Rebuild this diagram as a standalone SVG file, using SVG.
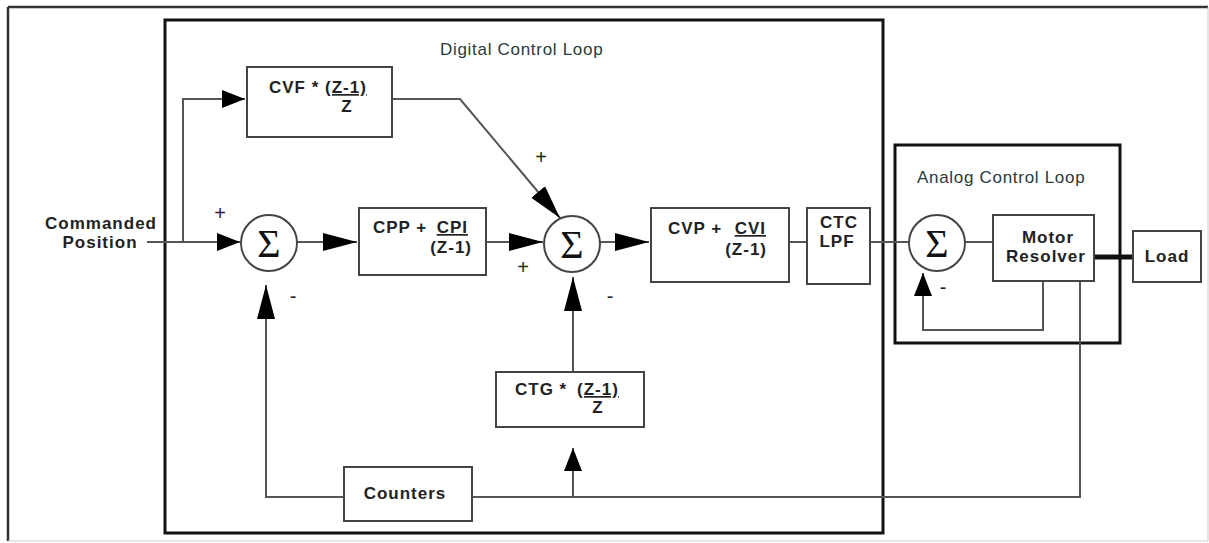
<svg xmlns="http://www.w3.org/2000/svg" width="1209" height="543" viewBox="0 0 1209 543">
<style>
.box{fill:#fff;stroke:#444;stroke-width:2}
.frame{fill:none;stroke:#111;stroke-width:3}
.ln{fill:none;stroke:#555;stroke-width:2}
.lbl{font-family:"Liberation Sans",Arial,sans-serif;font-size:17px;font-weight:bold;letter-spacing:1px;fill:#222}
.ttl{font-family:"Liberation Sans",Arial,sans-serif;font-size:17px;letter-spacing:0.7px;fill:#2a3a3a}
.sig{font-family:"Liberation Serif","Times New Roman",serif;font-size:40px;fill:#111;text-anchor:middle}
.sgn{font-family:"Liberation Sans",Arial,sans-serif;font-size:20px;fill:#222;text-anchor:middle}
.m{text-anchor:middle}
.e{text-anchor:end}
.u{text-decoration:underline}
.circ{fill:#fff;stroke:#444;stroke-width:2}
</style>
<defs>
<marker id="aL" markerUnits="userSpaceOnUse" markerWidth="34" markerHeight="20" viewBox="0 0 34 20" refX="34" refY="10" orient="auto"><path d="M0,1 L34,10 L0,19 z" fill="#000"/></marker>
<marker id="aS" markerUnits="userSpaceOnUse" markerWidth="23" markerHeight="20" viewBox="0 0 23 20" refX="23" refY="10" orient="auto"><path d="M0,1 L23,10 L0,19 z" fill="#000"/></marker>
</defs>
<rect width="1209" height="543" fill="#fff"/>
<g id="outer-frame">
<line x1="8" y1="7" x2="1208" y2="7" stroke="#333" stroke-width="2.5"/>
<line x1="8" y1="7" x2="8" y2="541" stroke="#333" stroke-width="2.5"/>
<line x1="1208" y1="7" x2="1208" y2="541" stroke="#ccc" stroke-width="1"/>
<line x1="8" y1="541" x2="1208" y2="541" stroke="#ccc" stroke-width="1"/>
</g>
<g id="digital-loop">
<rect class="frame" x="165" y="20" width="718" height="513"/>
<text class="ttl" x="440" y="55">Digital Control Loop</text>
</g>
<g id="analog-loop">
<rect class="frame" x="895" y="145" width="225" height="198"/>
<text class="ttl" x="917" y="183">Analog Control Loop</text>
</g>
<g id="commanded-position">
<text class="lbl m" x="101" y="229">Commanded</text>
<text class="lbl m" x="100" y="248">Position</text>
</g>
<g id="connectors">
<path class="ln" d="M183,242 V99 H245" marker-end="url(#aS)"/>
<path class="ln" d="M147,242 H240" marker-end="url(#aS)"/>
<path class="ln" d="M297,242 H357" marker-end="url(#aL)"/>
<path class="ln" d="M486,242 H543" marker-end="url(#aL)"/>
<path class="ln" d="M392,99 H460 L560,218" marker-end="url(#aL)"/>
<path class="ln" d="M600,242 H649" marker-end="url(#aL)"/>
<path class="ln" d="M789,242 H807"/>
<path class="ln" d="M870,242 H909"/>
<path class="ln" d="M965,242 H993"/>
<path d="M1094,257 H1133" fill="none" stroke="#111" stroke-width="5"/>
<path class="ln" d="M1043,281 V330 H923 V273" marker-end="url(#aS)"/>
<path class="ln" d="M1080,281 V497 H472"/>
<path class="ln" d="M344,497 H266 V285" marker-end="url(#aL)"/>
<path class="ln" d="M573,497 V448" marker-end="url(#aS)"/>
<path class="ln" d="M573,372 V277" marker-end="url(#aL)"/>
</g>
<g id="cvf">
<rect class="box" x="247" y="67" width="145" height="70"/>
<text class="lbl" x="269" y="93">CVF *</text>
<text class="lbl u" x="325" y="93">(Z-1)</text>
<text class="lbl m" x="347" y="112">Z</text>
</g>
<g id="sum1">
<circle class="circ" cx="269" cy="243" r="28"/>
<text class="sig" x="269" y="257">Σ</text>
<text class="sgn" x="220" y="220">+</text>
<text class="sgn" x="293" y="303">-</text>
</g>
<g id="cpp">
<rect class="box" x="359" y="208" width="127" height="67"/>
<text class="lbl" x="373" y="233">CPP +</text>
<text class="lbl e u" x="468" y="233">CPI</text>
<text class="lbl e" x="472" y="253">(Z-1)</text>
</g>
<g id="sum2">
<circle class="circ" cx="572" cy="244" r="28"/>
<text class="sig" x="572" y="258">Σ</text>
<text class="sgn" x="541" y="164">+</text>
<text class="sgn" x="523" y="274">+</text>
<text class="sgn" x="610" y="303">-</text>
</g>
<g id="cvp">
<rect class="box" x="651" y="208" width="138" height="74"/>
<text class="lbl" x="668" y="234">CVP +</text>
<text class="lbl e u" x="766" y="234">CVI</text>
<text class="lbl e" x="767" y="255">(Z-1)</text>
</g>
<g id="ctc-lpf">
<rect class="box" x="807" y="208" width="63" height="76"/>
<text class="lbl m" x="839" y="228">CTC</text>
<text class="lbl m" x="837" y="247">LPF</text>
</g>
<g id="ctg">
<rect class="box" x="496" y="372" width="148" height="55"/>
<text class="lbl" x="515" y="395">CTG *</text>
<text class="lbl u" x="577" y="395">(Z-1)</text>
<text class="lbl m" x="598" y="413">Z</text>
</g>
<g id="counters">
<rect class="box" x="344" y="467" width="128" height="54"/>
<text class="lbl m" x="405" y="499">Counters</text>
</g>
<g id="sum3">
<circle class="circ" cx="937" cy="243" r="28"/>
<text class="sig" x="937" y="257">Σ</text>
<text class="sgn" x="943" y="294">-</text>
</g>
<g id="motor-resolver">
<rect class="box" x="993" y="215" width="101" height="66"/>
<text class="lbl m" x="1048" y="243">Motor</text>
<text class="lbl m" x="1046" y="262">Resolver</text>
</g>
<g id="load">
<rect class="box" x="1133" y="231" width="68" height="51"/>
<text class="lbl m" x="1167" y="262">Load</text>
</g>
</svg>
